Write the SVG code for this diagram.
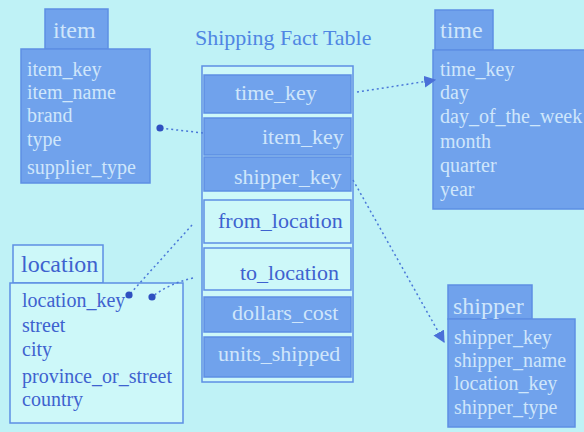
<svg xmlns="http://www.w3.org/2000/svg" width="584" height="432" viewBox="0 0 584 432">
<defs>
<style>
.bg{fill:#bff2f6}
.blue{fill:#70a2ec;stroke:#5d8fe4;stroke-width:1.5}
.white{fill:#cdf8f9;stroke:#5d8fe4;stroke-width:1.5}
.lt{font-family:"Liberation Serif",serif;font-size:20px;fill:#cfe6fb}
.dk{font-family:"Liberation Serif",serif;font-size:20px;fill:#3e62cf}
.fk{font-size:22px}
.hd{font-size:24px}
.title{font-family:"Liberation Serif",serif;font-size:22px;fill:#4f86e3}
.conn{fill:none;stroke:#4a78d8;stroke-width:1.5;stroke-dasharray:2 3}
</style>
<marker id="arr" viewBox="0 0 10 10" refX="9" refY="5" markerWidth="8" markerHeight="8" orient="auto"><path d="M0,0 L10,5 L0,10 z" fill="#4a70d8"/></marker>
<marker id="dot" viewBox="0 0 10 10" refX="5" refY="5" markerWidth="6" markerHeight="6"><circle cx="5" cy="5" r="4" fill="#2f50c0"/></marker>
</defs>
<rect class="bg" x="0" y="0" width="584" height="432"/>

<g id="item">
<rect class="blue" x="45" y="9" width="63" height="40"/>
<rect class="blue" x="21" y="49" width="129" height="134"/>
<text class="lt hd" x="53" y="38">item</text>
<text class="lt" x="27" y="76">item_key</text>
<text class="lt" x="27" y="99">item_name</text>
<text class="lt" x="27" y="122">brand</text>
<text class="lt" x="27" y="146">type</text>
<text class="lt" x="27" y="174">supplier_type</text>
</g>

<g id="time">
<rect class="blue" x="435" y="10" width="58" height="40"/>
<rect class="blue" x="433" y="50" width="160" height="159"/>
<text class="lt hd" x="440" y="38">time</text>
<text class="lt" x="440" y="76">time_key</text>
<text class="lt" x="440" y="99">day</text>
<text class="lt" x="440" y="123">day_of_the_week</text>
<text class="lt" x="440" y="148">month</text>
<text class="lt" x="440" y="172">quarter</text>
<text class="lt" x="440" y="196">year</text>
</g>

<g id="fact">
<text class="title" x="195" y="45">Shipping Fact Table</text>
<rect class="white" x="202" y="66" width="151" height="316"/>
<rect class="blue" x="204" y="75" width="147" height="38"/>
<rect class="blue" x="204" y="118" width="147" height="37"/>
<rect class="blue" x="204" y="157" width="147" height="34"/>
<rect class="white" x="204" y="200" width="147" height="43"/>
<rect class="white" x="204" y="248" width="147" height="42"/>
<rect class="blue" x="204" y="297" width="147" height="35"/>
<rect class="blue" x="204" y="337" width="147" height="40"/>
<text class="lt fk" x="235" y="100">time_key</text>
<text class="lt fk" x="262" y="144">item_key</text>
<text class="lt fk" x="234" y="184">shipper_key</text>
<text class="dk fk" x="218" y="228">from_location</text>
<text class="dk fk" x="240" y="280">to_location</text>
<text class="lt fk" x="232" y="320">dollars_cost</text>
<text class="lt fk" x="218" y="361">units_shipped</text>
</g>

<g id="location">
<rect class="white" x="13" y="245" width="90" height="38"/>
<rect class="white" x="10" y="283" width="173" height="140"/>
<text class="dk hd" x="21" y="272">location</text>
<text class="dk" x="22" y="307">location_key</text>
<text class="dk" x="22" y="332">street</text>
<text class="dk" x="22" y="356">city</text>
<text class="dk" x="22" y="383">province_or_street</text>
<text class="dk" x="22" y="406">country</text>
</g>

<g id="shipper">
<rect class="blue" x="448" y="285" width="84" height="34"/>
<rect class="blue" x="448" y="319" width="127" height="108"/>
<text class="lt hd" x="453" y="314">shipper</text>
<text class="lt" x="454" y="344">shipper_key</text>
<text class="lt" x="454" y="367">shipper_name</text>
<text class="lt" x="454" y="390">location_key</text>
<text class="lt" x="454" y="414">shipper_type</text>
</g>

<g id="connectors">
<path class="conn" d="M203,133 L160,128" marker-end="url(#dot)"/>
<path class="conn" d="M357,92 L435,80" marker-end="url(#arr)"/>
<path class="conn" d="M353,180 L444,342" marker-end="url(#arr)"/>
<path class="conn" d="M192,225 L129,295" marker-end="url(#dot)"/>
<path class="conn" d="M193,278 Q168,284 152,297" marker-end="url(#dot)"/>
</g>
</svg>
